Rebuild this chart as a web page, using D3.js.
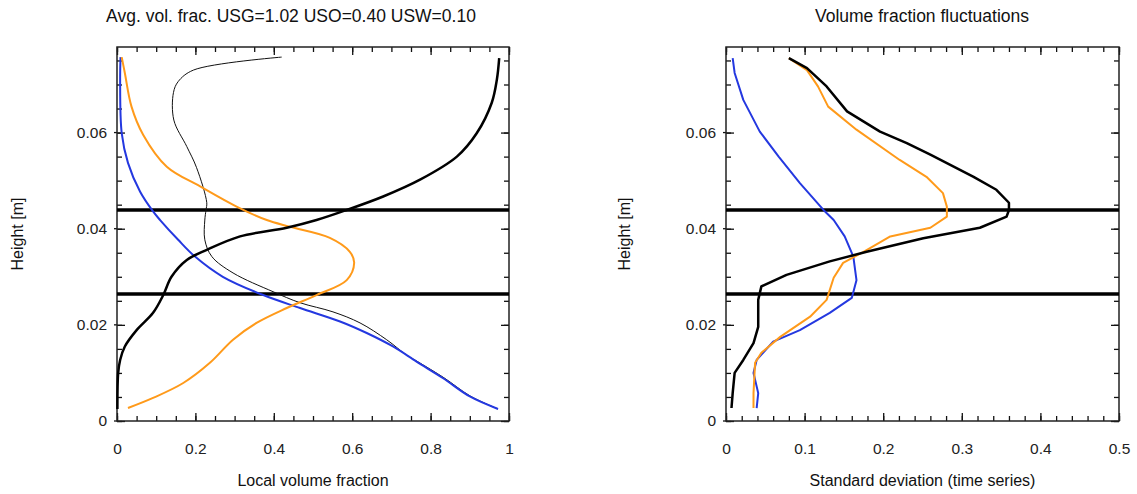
<!DOCTYPE html>
<html>
<head>
<meta charset="utf-8">
<script src="https://cdn.jsdelivr.net/npm/d3@7"></script>
<style>
  body { margin: 0; background: #fff; }
  svg { font-family: "Liberation Sans", Arial, sans-serif; }
  .tick text { font-size: 15.5px; fill: #222; }
  .domain { display: none; }
</style>
</head>
<body>
<div id="vis"></div>
<script>
// ---- data: [value, height] ----
const leftBlue = [[0.009,0.0757],[0.008,0.0710],[0.012,0.0599],[0.028,0.0537],[0.059,0.0477],[0.092,0.0436],[0.110,0.0418],[0.156,0.0377],[0.199,0.0342],[0.270,0.0300],[0.373,0.0262],[0.467,0.0235],[0.569,0.0207],[0.637,0.0183],[0.704,0.0155],[0.765,0.0123],[0.832,0.0089],[0.900,0.0051],[0.972,0.0025]];
const leftThin = [[0.420,0.0757],[0.195,0.0730],[0.156,0.0706],[0.144,0.0683],[0.145,0.0626],[0.178,0.0571],[0.203,0.0527],[0.229,0.0454],[0.227,0.0439],[0.224,0.0418],[0.224,0.0377],[0.242,0.0342],[0.296,0.0308],[0.398,0.0269],[0.467,0.0246],[0.551,0.0227],[0.620,0.0204],[0.688,0.0169],[0.739,0.0137],[0.768,0.0123],[0.834,0.0090],[0.901,0.0052],[0.972,0.0025]];
const leftOrange = [[0.012,0.0757],[0.020,0.0724],[0.037,0.0654],[0.067,0.0595],[0.127,0.0529],[0.212,0.0488],[0.305,0.0446],[0.382,0.0418],[0.441,0.0404],[0.543,0.0381],[0.594,0.0352],[0.605,0.0329],[0.586,0.0293],[0.509,0.0262],[0.433,0.0235],[0.356,0.0204],[0.296,0.0169],[0.237,0.0121],[0.169,0.0079],[0.092,0.0048],[0.028,0.0027]];
const leftBlack = [[0.975,0.0755],[0.969,0.0710],[0.956,0.0662],[0.918,0.0599],[0.867,0.0550],[0.773,0.0502],[0.679,0.0467],[0.586,0.0439],[0.509,0.0418],[0.433,0.0402],[0.314,0.0384],[0.229,0.0356],[0.178,0.0335],[0.139,0.0300],[0.118,0.0262],[0.092,0.0225],[0.050,0.0189],[0.020,0.0155],[0.008,0.0127],[0.003,0.0100],[0.001,0.0025]];

const rightBlue = [[0.0085,0.0755],[0.011,0.0724],[0.022,0.0668],[0.043,0.0602],[0.067,0.0550],[0.094,0.0495],[0.124,0.0439],[0.137,0.0418],[0.151,0.0384],[0.162,0.0342],[0.166,0.0293],[0.160,0.0256],[0.132,0.0225],[0.094,0.0189],[0.060,0.0165],[0.039,0.0127],[0.035,0.0100],[0.041,0.0058],[0.039,0.0027]];
const rightOrange = [[0.080,0.0755],[0.103,0.0730],[0.117,0.0696],[0.130,0.0654],[0.166,0.0606],[0.221,0.0543],[0.255,0.0508],[0.276,0.0474],[0.281,0.0446],[0.281,0.0425],[0.260,0.0402],[0.209,0.0384],[0.175,0.0352],[0.149,0.0329],[0.137,0.0298],[0.128,0.0252],[0.107,0.0217],[0.069,0.0175],[0.045,0.0142],[0.037,0.0121],[0.035,0.0058],[0.035,0.0027]];
const rightBlack = [[0.080,0.0755],[0.103,0.0734],[0.128,0.0696],[0.154,0.0644],[0.196,0.0602],[0.230,0.0578],[0.260,0.0554],[0.315,0.0508],[0.344,0.0481],[0.360,0.0454],[0.360,0.0439],[0.357,0.0425],[0.323,0.0402],[0.251,0.0380],[0.179,0.0352],[0.132,0.0332],[0.077,0.0304],[0.045,0.0280],[0.041,0.0252],[0.041,0.0196],[0.035,0.0162],[0.022,0.0127],[0.011,0.0100],[0.0085,0.0058],[0.007,0.0027]];

// interface heights (thick horizontal lines)
const interfaces = [0.0439, 0.0264];

const yTicks = [0, 0.02, 0.04, 0.06];
const leftXTicks = [0, 0.2, 0.4, 0.6, 0.8, 1];
const rightXTicks = [0, 0.1, 0.2, 0.3, 0.4, 0.5];

const BLUE = "#2438e0", ORANGE = "#ff9a1a";

const W = 1137, H = 494;
const svg = d3.select("#vis").append("svg").attr("width", W).attr("height", H);

function panel(opt) {
  const x = d3.scaleLinear().domain(opt.xDomain).range([opt.left, opt.right]);
  const y = d3.scaleLinear().domain([0, 0.0778]).range([421, 47]);
  const g = svg.append("g");

  // minor ticks (inward), all four sides
  const minorX = d3.range(opt.xDomain[0], opt.xDomain[1] + 1e-9, opt.xMinor);
  const minorY = d3.range(0, 0.0778, 0.005);
  g.append("g").attr("transform", `translate(0,421)`)
    .call(d3.axisBottom(x).tickValues(minorX).tickSize(-5).tickFormat(""));
  g.append("g").attr("transform", `translate(0,47)`)
    .call(d3.axisTop(x).tickValues(minorX).tickSize(-5).tickFormat(""));
  g.append("g").attr("transform", `translate(${opt.left},0)`)
    .call(d3.axisLeft(y).tickValues(minorY).tickSize(-5).tickFormat(""));
  g.append("g").attr("transform", `translate(${opt.right},0)`)
    .call(d3.axisRight(y).tickValues(minorY).tickSize(-5).tickFormat(""));

  // major ticks with labels
  g.append("g").attr("transform", `translate(0,421)`)
    .call(d3.axisBottom(x).tickValues(opt.xTicks).tickSize(-8).tickPadding(22).tickFormat(d3.format("")));
  g.append("g").attr("transform", `translate(0,47)`)
    .call(d3.axisTop(x).tickValues(opt.xTicks).tickSize(-8).tickFormat(""));
  g.append("g").attr("transform", `translate(${opt.left},0)`)
    .call(d3.axisLeft(y).tickValues(yTicks).tickSize(-8).tickPadding(10).tickFormat(d3.format("")));
  g.append("g").attr("transform", `translate(${opt.right},0)`)
    .call(d3.axisRight(y).tickValues(yTicks).tickSize(-8).tickFormat(""));
  g.selectAll(".tick line").attr("stroke", "#111").attr("stroke-width", 1.3);
  // short outward stubs on major y ticks
  g.selectAll(".stub").data(yTicks).enter().append("line")
    .attr("x1", opt.left - 3).attr("x2", opt.left)
    .attr("y1", d => y(d)).attr("y2", d => y(d))
    .attr("stroke", "#111").attr("stroke-width", 1.3);

  // frame
  g.append("rect").attr("x", opt.left).attr("y", 47)
    .attr("width", opt.right - opt.left).attr("height", 374)
    .attr("fill", "none").attr("stroke", "#222").attr("stroke-width", 1.5);

  // interface lines
  g.selectAll(".iface").data(interfaces).enter().append("line")
    .attr("x1", opt.left).attr("x2", opt.right)
    .attr("y1", d => y(d)).attr("y2", d => y(d))
    .attr("stroke", "#000").attr("stroke-width", 3.5);

  const line = d3.line().x(d => x(d[0])).y(d => y(d[1])).curve(opt.curve);
  opt.series.forEach(s => {
    g.append("path").datum(s.data).attr("d", line)
      .attr("fill", "none").attr("stroke", s.color).attr("stroke-width", s.w)
      .attr("stroke-linejoin", "round");
  });

  // texts
  svg.append("text").attr("x", opt.titleX).attr("y", 22).attr("text-anchor", "middle")
    .attr("font-size", 17.5).attr("fill", "#111").text(opt.title);
  svg.append("text").attr("x", (opt.left + opt.right) / 2).attr("y", 486).attr("text-anchor", "middle")
    .attr("font-size", 16).attr("fill", "#111").text(opt.xLabel);
  svg.append("text").attr("transform", `translate(${opt.yLabelX},234) rotate(-90)`)
    .attr("text-anchor", "middle").attr("font-size", 16).attr("fill", "#111").text("Height [m]");
}

panel({
  left: 117, right: 509, xDomain: [0, 1], xTicks: leftXTicks, xMinor: 0.05,
  title: "Avg. vol. frac. USG=1.02 USO=0.40 USW=0.10", titleX: 291,
  xLabel: "Local volume fraction", yLabelX: 23, curve: d3.curveCatmullRom,
  series: [
    { data: leftThin, color: "#111", w: 1 },
    { data: leftBlue, color: BLUE, w: 2 },
    { data: leftOrange, color: ORANGE, w: 2 },
    { data: leftBlack, color: "#000", w: 2.5 }
  ]
});

panel({
  left: 726, right: 1119, xDomain: [0, 0.5], xTicks: rightXTicks, xMinor: 0.02,
  title: "Volume fraction fluctuations", titleX: 922,
  xLabel: "Standard deviation (time series)", yLabelX: 630, curve: d3.curveLinear,
  series: [
    { data: rightBlue, color: BLUE, w: 2 },
    { data: rightOrange, color: ORANGE, w: 2 },
    { data: rightBlack, color: "#000", w: 2.5 }
  ]
});
</script>
</body>
</html>
